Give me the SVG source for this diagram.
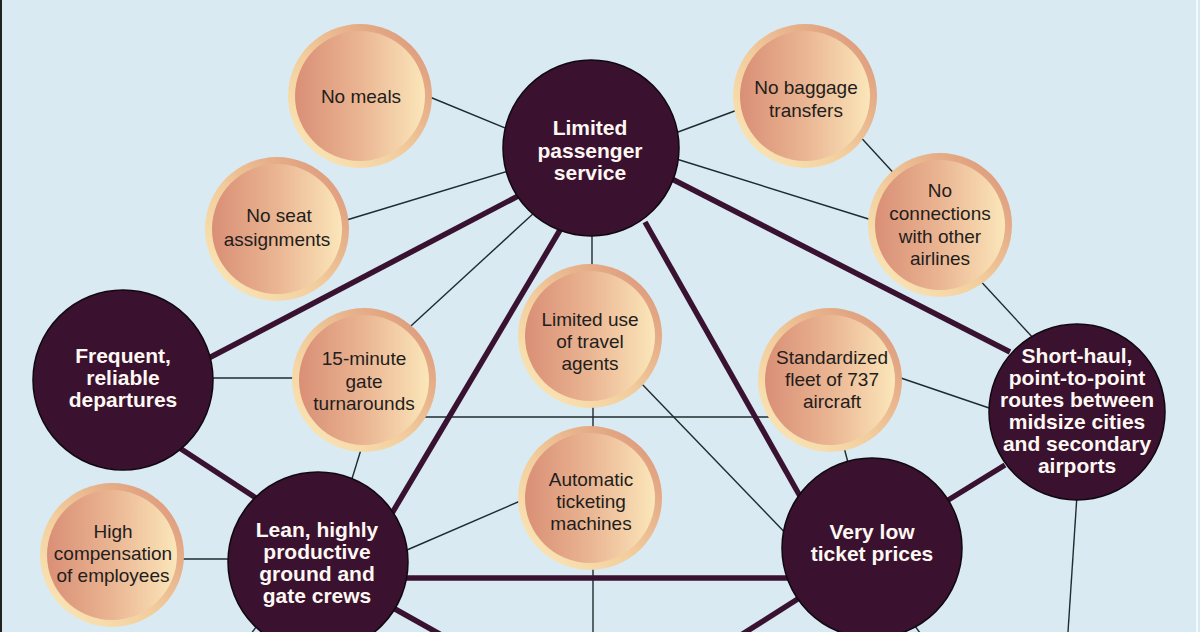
<svg xmlns="http://www.w3.org/2000/svg" width="1200" height="632" viewBox="0 0 1200 632">
<defs>
<linearGradient id="rim" x1="0" y1="1" x2="1" y2="0">
<stop offset="0" stop-color="#fcecbc"/>
<stop offset="0.45" stop-color="#f2cc9c"/>
<stop offset="1" stop-color="#d98f74"/>
</linearGradient>
<linearGradient id="core" x1="0" y1="0" x2="1" y2="0">
<stop offset="0" stop-color="#d98f76"/>
<stop offset="0.5" stop-color="#eab592"/>
<stop offset="1" stop-color="#fbe6ba"/>
</linearGradient>
<style>
.thin{stroke:#1f2b2e;stroke-width:1.4;fill:none}
.thick{stroke:#3a1231;stroke-width:5.5;fill:none}
.dark circle{fill:#3a1230;stroke:#120810;stroke-width:1.5}
.dark text{fill:#fff8f2;font-family:"Liberation Sans",Arial,sans-serif;font-weight:bold;font-size:21px;text-anchor:middle}
.lite .o{fill:url(#rim)}
.lite .i{fill:url(#core)}
.lite text{fill:#231d1c;font-family:"Liberation Sans",Arial,sans-serif;font-size:19px;text-anchor:middle}
</style>
</defs>
<rect x="0" y="0" width="1200" height="632" fill="#d9eaf2"/>
<line x1="1" y1="0" x2="1" y2="632" stroke="#222" stroke-width="2"/>
<line x1="1197" y1="0" x2="1197" y2="632" stroke="#f4fafc" stroke-width="2"/>
<g id="connectors">
<line class="thin" x1="420" y1="93" x2="515" y2="132"/>
<line class="thin" x1="340" y1="222" x2="515" y2="169"/>
<line class="thin" x1="740" y1="109" x2="670" y2="135"/>
<line class="thin" x1="855" y1="131" x2="900" y2="180"/>
<line class="thin" x1="670" y1="157" x2="875" y2="221"/>
<line class="thin" x1="975" y1="275" x2="1035" y2="340"/>
<line class="thin" x1="400" y1="336" x2="535" y2="212"/>
<line class="thin" x1="205" y1="378" x2="300" y2="378"/>
<line class="thin" x1="425" y1="417" x2="775" y2="417"/>
<line class="thin" x1="592" y1="225" x2="592" y2="275"/>
<line class="thin" x1="593" y1="400" x2="593" y2="435"/>
<line class="thin" x1="640" y1="382" x2="795" y2="543"/>
<line class="thin" x1="895" y1="376" x2="995" y2="410"/>
<line class="thin" x1="842" y1="440" x2="850" y2="470"/>
<line class="thin" x1="364" y1="440" x2="350" y2="485"/>
<line class="thin" x1="525" y1="499" x2="400" y2="553"/>
<line class="thin" x1="180" y1="559" x2="235" y2="559"/>
<line class="thin" x1="593" y1="565" x2="593" y2="632"/>
<line class="thin" x1="1077" y1="495" x2="1068" y2="632"/>
<line class="thin" x1="265" y1="615" x2="245" y2="642"/>
<line class="thin" x1="905" y1="612" x2="925" y2="640"/>
<line class="thick" x1="520" y1="195" x2="205" y2="360"/>
<line class="thick" x1="560" y1="230" x2="385" y2="525"/>
<line class="thick" x1="645" y1="222" x2="805" y2="505"/>
<line class="thick" x1="670" y1="178" x2="1010" y2="352"/>
<line class="thick" x1="175" y1="445" x2="262" y2="502"/>
<line class="thick" x1="400" y1="578" x2="790" y2="578"/>
<line class="thick" x1="945" y1="502" x2="1005" y2="465"/>
<line class="thick" x1="370" y1="595" x2="445" y2="637"/>
<line class="thick" x1="815" y1="588" x2="730" y2="642"/>
</g>
<g id="no-meals" class="lite"><circle class="o" cx="360" cy="96" r="72"/><circle class="i" cx="360" cy="96" r="65"/><text x="361" y="103">No meals</text></g>
<g id="no-seat" class="lite"><circle class="o" cx="277" cy="229" r="72"/><circle class="i" cx="277" cy="229" r="65"/><text x="279" y="222">No seat</text><text x="277" y="246">assignments</text></g>
<g id="no-baggage" class="lite"><circle class="o" cx="805" cy="96" r="72"/><circle class="i" cx="805" cy="96" r="65"/><text x="806" y="94">No baggage</text><text x="806" y="117">transfers</text></g>
<g id="no-connections" class="lite"><circle class="o" cx="940" cy="225" r="72"/><circle class="i" cx="940" cy="225" r="65"/><text x="940" y="197">No</text><text x="940" y="220">connections</text><text x="940" y="243">with other</text><text x="940" y="265">airlines</text></g>
<g id="gate-turnarounds" class="lite"><circle class="o" cx="364" cy="380" r="72"/><circle class="i" cx="364" cy="380" r="65"/><text x="364" y="365">15-minute</text><text x="364" y="388">gate</text><text x="364" y="410">turnarounds</text></g>
<g id="travel-agents" class="lite"><circle class="o" cx="590" cy="336" r="72"/><circle class="i" cx="590" cy="336" r="65"/><text x="590" y="326">Limited use</text><text x="590" y="348">of travel</text><text x="590" y="370">agents</text></g>
<g id="fleet" class="lite"><circle class="o" cx="830" cy="380" r="72"/><circle class="i" cx="830" cy="380" r="65"/><text x="832" y="364">Standardized</text><text x="832" y="386">fleet of 737</text><text x="832" y="408">aircraft</text></g>
<g id="ticketing" class="lite"><circle class="o" cx="590" cy="498" r="72"/><circle class="i" cx="590" cy="498" r="65"/><text x="591" y="486">Automatic</text><text x="591" y="508">ticketing</text><text x="591" y="530">machines</text></g>
<g id="compensation" class="lite"><circle class="o" cx="112" cy="555" r="72"/><circle class="i" cx="112" cy="555" r="65"/><text x="113" y="538">High</text><text x="113" y="560">compensation</text><text x="113" y="582">of employees</text></g>
<g id="limited-service" class="dark"><circle cx="591" cy="148" r="88"/><text x="590" y="135">Limited</text><text x="590" y="158">passenger</text><text x="590" y="180">service</text></g>
<g id="departures" class="dark"><circle cx="123" cy="380" r="90"/><text x="123" y="363">Frequent,</text><text x="123" y="385">reliable</text><text x="123" y="407">departures</text></g>
<g id="crews" class="dark"><circle cx="318" cy="562" r="90"/><text x="317" y="537">Lean, highly</text><text x="317" y="559">productive</text><text x="317" y="581">ground and</text><text x="317" y="603">gate crews</text></g>
<g id="prices" class="dark"><circle cx="872" cy="548" r="90"/><text x="872" y="539">Very low</text><text x="872" y="561">ticket prices</text></g>
<g id="routes" class="dark"><circle cx="1077" cy="412" r="88"/><text x="1077" y="363">Short-haul,</text><text x="1077" y="385">point-to-point</text><text x="1077" y="407">routes between</text><text x="1077" y="429">midsize cities</text><text x="1077" y="451">and secondary</text><text x="1077" y="473">airports</text></g>
</svg>
